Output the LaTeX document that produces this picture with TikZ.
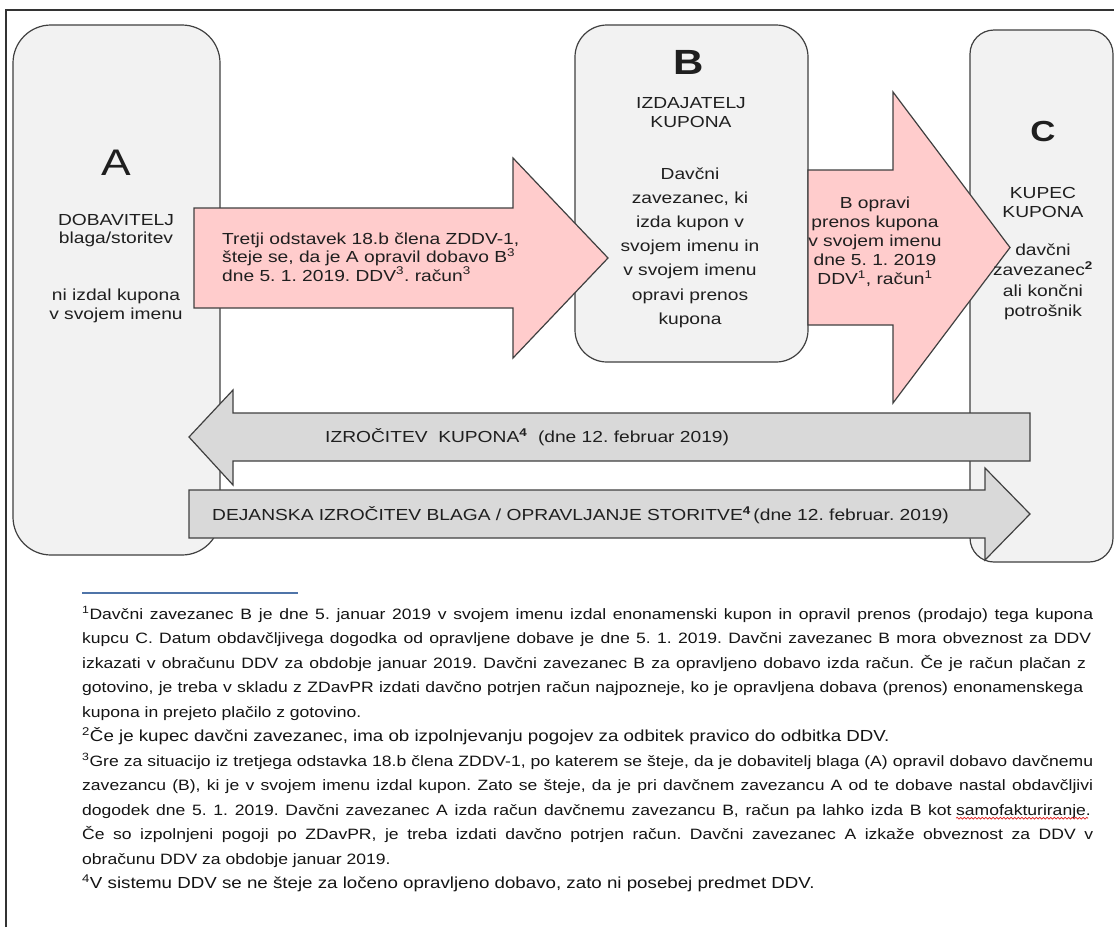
\documentclass[tikz,border=0pt]{standalone}
\usepackage{fontspec}
\setmainfont{Liberation Sans}[FakeStretch=1.2]
\newfontfamily\fnfont{Liberation Sans}[FakeStretch=1.17]
\frenchspacing
\usetikzlibrary{decorations.pathmorphing}
\definecolor{bord}{HTML}{404040}
\definecolor{framecol}{HTML}{333333}
\definecolor{boxfill}{HTML}{F2F2F2}
\definecolor{pinkfill}{HTML}{FFCCCC}
\definecolor{grayfill}{HTML}{D9D9D9}
\definecolor{txt}{HTML}{1F1F1F}
\definecolor{fntxt}{HTML}{141414}
\definecolor{sepcol}{HTML}{4F74A8}
\definecolor{wavered}{HTML}{E02020}
\tikzset{
  entity/.style={draw=bord, fill=boxfill, line width=1.2pt, inner sep=0pt},
  blockarrow/.style={draw=bord, line width=1.2pt, line join=miter},
  lbl/.style={inner sep=0pt, text=txt, font=\fontsize{16}{18.4}\selectfont},
  fnline/.style={inner sep=0pt, anchor=base west, text=fntxt},
  fnsmall/.style={fnline, font=\fnfont\fontsize{15}{16}\selectfont},
  fnbig/.style={fnline, font=\fnfont\fontsize{16}{18}\selectfont},
  spellwave/.style={wavered, line width=0.7pt, decorate, decoration={snake, amplitude=0.9pt, segment length=3.6pt}}
}
\begin{document}
\begin{tikzpicture}[x=1pt,y=-1pt]
\useasboundingbox (0,0) rectangle (1114,927);
\fill[white] (0,0) rectangle (1114,927);
\draw[line width=1.3pt, draw=framecol] (6,927) -- (6,10) -- (1114,10);

% boxes
\node[entity, minimum width=207, minimum height=530, rounded corners=38] (boxA) at (116.5,290) {};
\node[entity, minimum width=233, minimum height=337, rounded corners=32] (boxB) at (691.5,193.5) {};
\node[entity, minimum width=143, minimum height=532, rounded corners=24] (boxC) at (1041.5,296) {};

% pink arrows
\draw[blockarrow, fill=pinkfill] (194,208) -- (513,208) -- (513,158) -- (608,258) -- (513,358) -- (513,308) -- (194,308) -- cycle;
\draw[blockarrow, fill=pinkfill] (808,170) -- (893,170) -- (893,92) -- (1010,247.5) -- (893,403) -- (893,325) -- (808,325) -- cycle;

% gray arrows
\draw[blockarrow, fill=grayfill] (1030,413) -- (233,413) -- (233,390) -- (189,437) -- (233,485) -- (233,461) -- (1030,461) -- cycle;
\draw[blockarrow, fill=grayfill] (189,490) -- (985,490) -- (985,468) -- (1030,514) -- (985,560) -- (985,538) -- (189,538) -- cycle;

% A texts
\node[lbl, font=\fontsize{37}{40}\selectfont] (aLetter) at (116,163) {A};
\node[lbl, align=center] (aTitle) at (116,230.5) {DOBAVITELJ\\blaga/storitev};
\node[lbl, align=center] (aNote) at (116,306) {ni izdal kupona\\v svojem imenu};

% arrow 1 text
\node[lbl, align=left, anchor=west] (arrowOneText) at (222,257) {Tretji odstavek 18.b člena ZDDV-1,\\šteje se, da je A opravil dobavo B\textsuperscript{3}\\dne 5. 1. 2019. DDV\textsuperscript{3}. račun\textsuperscript{3}};

% B texts
\node[lbl, font=\fontsize{35}{38}\selectfont\bfseries] (bLetter) at (689,62) {B};
\node[lbl, align=center, font=\fontsize{16}{19.5}\selectfont] (bTitle) at (691,112.5) {IZDAJATELJ\\KUPONA};
\node[lbl, align=center, font=\fontsize{16}{24.2}\selectfont] (bDesc) at (690,247.5) {Davčni\\zavezanec, ki\\izda kupon v\\svojem imenu in\\v svojem imenu\\opravi prenos\\kupona};

% arrow 2 text
\node[lbl, align=center, font=\fontsize{16}{19}\selectfont] (arrowTwoText) at (875,241.5) {B opravi\\prenos kupona\\v svojem imenu\\dne 5. 1. 2019\\DDV\textsuperscript{1}, račun\textsuperscript{1}};

% C texts
\node[lbl, font=\fontsize{29}{32}\selectfont\bfseries] (cLetter) at (1043,132) {C};
\node[lbl, align=center, font=\fontsize{16}{19}\selectfont] (cTitle) at (1043,202.5) {KUPEC\\KUPONA};
\node[lbl, align=center, font=\fontsize{16}{20.5}\selectfont] (cDesc) at (1043,282) {davčni\\zavezanec\textsuperscript{\textbf{2}}\\ali končni\\potrošnik};

% gray arrow texts
\node[lbl, anchor=west] (grayOneText) at (325,437) {IZROČITEV\ \ KUPONA\textsuperscript{\textbf{4}}\ \ (dne 12. februar 2019)};
\node[lbl, anchor=west] (grayTwoText) at (212,515) {DEJANSKA IZROČITEV BLAGA / OPRAVLJANJE STORITVE\textsuperscript{\textbf{4}}\,(dne 12. februar. 2019)};

% footnote separator
\draw[sepcol, line width=1.1pt] (82,593) -- (298,593);

% footnotes
\node[fnsmall] (fnOneA) at (82,619) {\makebox[1011pt][s]{\textsuperscript{1}Davčni zavezanec B je dne 5. januar 2019 v svojem imenu izdal enonamenski kupon in opravil prenos (prodajo) tega kupona}};
\node[fnsmall] (fnOneB) at (82,643.5) {\makebox[1009pt][s]{kupcu C. Datum obdavčljivega dogodka od opravljene dobave je dne 5. 1. 2019. Davčni zavezanec B mora obveznost za DDV}};
\node[fnsmall] (fnOneC) at (82,668) {\makebox[1004pt][s]{izkazati v obračunu DDV za obdobje januar 2019. Davčni zavezanec B za opravljeno dobavo izda račun. Če je račun plačan z}};
\node[fnsmall] (fnOneD) at (82,692.5) {\makebox[1001pt][s]{gotovino, je treba v skladu z ZDavPR izdati davčno potrjen račun najpozneje, ko je opravljena dobava (prenos) enonamenskega}};
\node[fnsmall] (fnOneE) at (82,717) {kupona in prejeto plačilo z gotovino.};
\node[fnbig] (fnTwo) at (82,741.5) {\textsuperscript{2}Če je kupec davčni zavezanec, ima ob izpolnjevanju pogojev za odbitek pravico do odbitka DDV.};
\node[fnsmall] (fnThreeA) at (82,766) {\makebox[1011pt][s]{\textsuperscript{3}Gre za situacijo iz tretjega odstavka 18.b člena ZDDV-1, po katerem se šteje, da je dobavitelj blaga (A) opravil dobavo davčnemu}};
\node[fnsmall] (fnThreeB) at (82,790.5) {\makebox[1011pt][s]{zavezancu (B), ki je v svojem imenu izdal kupon. Zato se šteje, da je pri davčnem zavezancu A od te dobave nastal obdavčljivi}};
\node[fnsmall, anchor=base east] (fnThreeWord) at (1091,815) {samofakturiranje.};
\node[fnsmall] (fnThreeC) at (82,815) {\setbox0=\hbox{samofakturiranje.\ }\makebox[\dimexpr1009pt-\wd0\relax][s]{dogodek dne 5. 1. 2019. Davčni zavezanec A izda račun davčnemu zavezancu B, račun pa lahko izda B kot}};
\draw[spellwave] ([yshift=-3.2pt]fnThreeWord.base west) -- ([yshift=-3.2pt,xshift=-3pt]fnThreeWord.base east);
\node[fnsmall] (fnThreeD) at (82,839.5) {\makebox[1011pt][s]{Če so izpolnjeni pogoji po ZDavPR, je treba izdati davčno potrjen račun. Davčni zavezanec A izkaže obveznost za DDV v}};
\node[fnsmall] (fnThreeE) at (82,864) {obračunu DDV za obdobje januar 2019.};
\node[fnbig] (fnFour) at (82,888.5) {\textsuperscript{4}V sistemu DDV se ne šteje za ločeno opravljeno dobavo, zato ni posebej predmet DDV.};
\end{tikzpicture}
\end{document}
